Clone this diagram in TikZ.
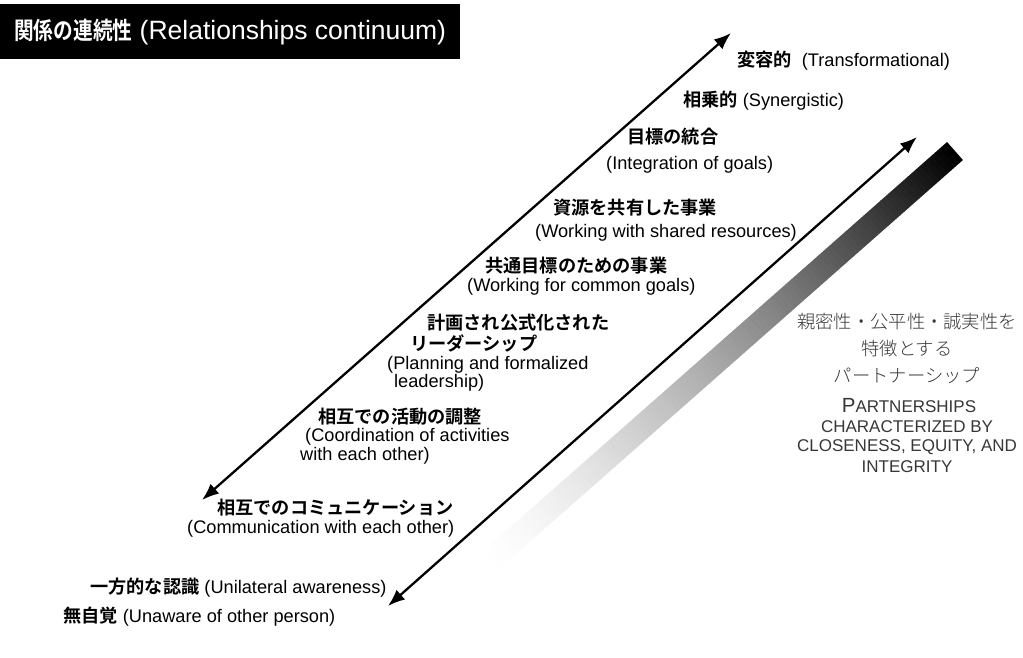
\documentclass[tikz,border=0pt]{standalone}
\usepackage{fontspec}
\setmainfont{Liberation Sans}
\newfontfamily\jpfont{Noto Sans CJK JP}[BoldFont={* Bold}]
\newfontfamily\jplight{Noto Sans CJK JP}[UprightFont={* Light}]
\usetikzlibrary{arrows.meta}
\definecolor{rtxt}{RGB}{55,55,55}
\newcommand\jpb[1]{{\jpfont\bfseries #1}}
\newcommand\scbig[1]{{\fontsize{20.5}{24}\selectfont #1}}
\begin{document}
\begin{tikzpicture}[x=1pt,y=-1pt,
  lbl/.style={inner sep=0pt, anchor=west, font=\fontsize{18.2}{22}\selectfont},
  rjp/.style={inner sep=0pt, text=rtxt, font=\jplight\fontsize{18.3}{22}\selectfont},
  ren/.style={inner sep=0pt, text=rtxt, font=\fontsize{17}{20}\selectfont},
  conn/.style={line width=2.3pt, {Latex[length=17pt,width=13pt]}-{Latex[length=17pt,width=13pt]}},
  titlebox/.style={fill=black, text=white, anchor=north west, minimum width=460pt, minimum height=55pt, inner sep=0pt}]
\useasboundingbox (0,0) rectangle (1023,657);

% gradient bar
\begin{scope}[shift={(955,151)}, rotate=41.4]
  \foreach \i in {0,...,119} {
    \pgfmathsetmacro\pc{100*(1-\i/120)^1.5}
    \fill[black!\pc!white] (-\i*5.2-5.6,-12) rectangle (-\i*5.2,12);
  }
\end{scope}

% title
\node[titlebox] (title) at (0,4) {\scalebox{0.82}[1]{\jpb{\fontsize{24}{28}\selectfont 関係の連続性}}{\fontsize{26.5}{30}\selectfont{} (Relationships continuum)}};

% arrows
\coordinate (a1lo) at (202,500);
\coordinate (a1hi) at (731,33);
\draw[conn] (a1lo) -- (a1hi);
\coordinate (a2lo) at (388,606);
\coordinate (a2hi) at (917,137);
\draw[conn] (a2lo) -- (a2hi);

% labels
\node[lbl] (l1) at (737,61) {\jpb{変容的}\ \ (Transformational)};
\node[lbl] (l2) at (683,101) {\jpb{相乗的} (Synergistic)};
\node[lbl] (l3a) at (627,137) {\jpb{目標の統合}};
\node[lbl] (l3b) at (606,165) {(Integration of goals)};
\node[lbl] (l4a) at (553,208) {\jpb{資源を共有した事業}};
\node[lbl] (l4b) at (535,233) {(Working with shared resources)};
\node[lbl] (l5a) at (485,266) {\jpb{共通目標のための事業}};
\node[lbl] (l5b) at (467,287) {(Working for common goals)};
\node[lbl] (l6a) at (427,323) {\jpb{計画され公式化された}};
\node[lbl] (l6b) at (410,343) {\jpb{リーダーシップ}};
\node[lbl] (l6c) at (387,365) {(Planning and formalized};
\node[lbl] (l6d) at (394,383) {leadership)};
\node[lbl] (l7a) at (318,417) {\jpb{相互での活動の調整}};
\node[lbl] (l7b) at (305,437) {(Coordination of activities};
\node[lbl] (l7c) at (300,456) {with each other)};
\node[lbl] (l8a) at (217,508) {\jpb{相互でのコミュニケーション}};
\node[lbl] (l8b) at (187,529) {(Communication with each other)};
\node[lbl] (l9) at (90,588) {\jpb{一方的な認識} (Unilateral awareness)};
\node[lbl] (l10) at (63,617) {\jpb{無自覚} (Unaware of other person)};

% right text
\node[rjp] (r1) at (907,322) {親密性・公平性・誠実性を};
\node[rjp] (r2) at (907,349) {特徴とする};
\node[rjp] (r3) at (907,376) {パートナーシップ};
\node[ren] (r4) at (909,406) {\scbig{P}ARTNERSHIPS};
\node[ren] (r5) at (907,427) {CHARACTERIZED BY};
\node[ren] (r6) at (907,447) {CLOSENESS, EQUITY, AND};
\node[ren] (r7) at (907,467) {INTEGRITY};
\end{tikzpicture}
\end{document}
